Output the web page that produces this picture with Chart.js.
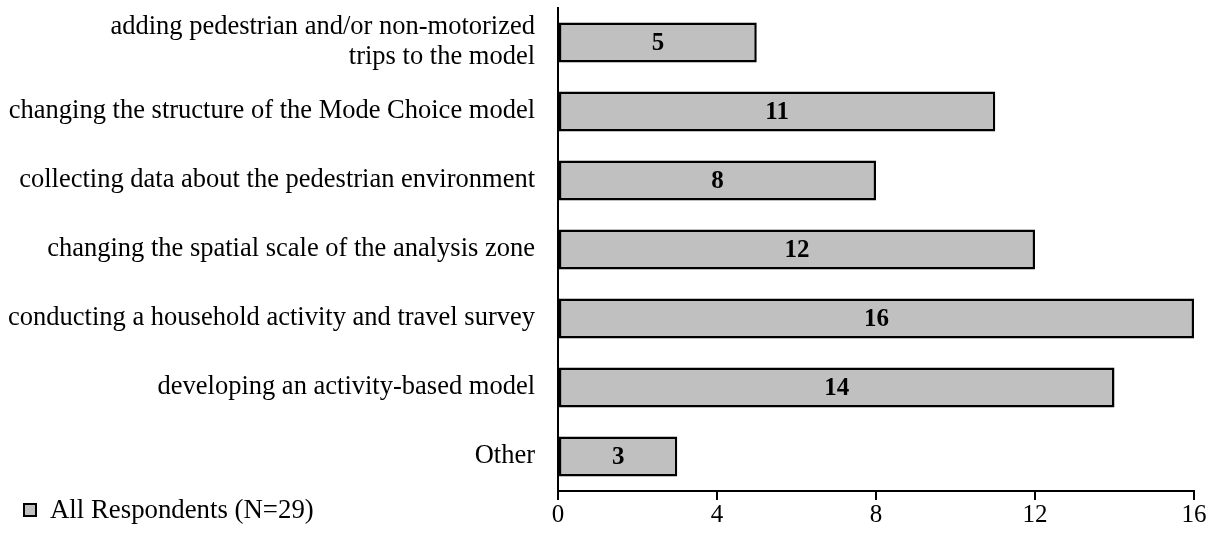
<!DOCTYPE html>
<html>
<head>
<meta charset="utf-8">
<script src="https://cdn.jsdelivr.net/npm/chart.js@4/dist/chart.umd.min.js"></script>
<style>
  html, body { margin: 0; padding: 0; background: #fff; overflow: hidden; }
  #wrap { width: 1214px; height: 533px; position: relative; }
</style>
</head>
<body>
<div id="wrap"><canvas id="c"></canvas></div>
<script>
const categories = [
  ["adding pedestrian and/or non-motorized", "trips to the model"],
  "changing the structure of the Mode Choice model",
  "collecting data about the pedestrian environment",
  "changing the spatial scale of the analysis zone",
  "conducting a household activity and travel survey",
  "developing an activity-based model",
  "Other"
];
const respondents = [5, 11, 8, 12, 16, 14, 3];
const seriesLabel = "All Respondents (N=29)";
const xTicks = [0, 4, 8, 12, 16];

const FONT = "'Liberation Serif', 'Times New Roman', serif";

// Bold value printed in the middle of each bar
const valueLabels = {
  id: 'valueLabels',
  afterDatasetsDraw(chart) {
    const { ctx } = chart;
    const meta = chart.getDatasetMeta(0);
    const data = chart.data.datasets[0].data;
    ctx.save();
    ctx.font = "bold 25px " + FONT;
    ctx.fillStyle = '#000';
    ctx.textAlign = 'center';
    ctx.textBaseline = 'middle';
    meta.data.forEach((bar, i) => {
      const x = (bar.base + bar.x) / 2;
      ctx.fillText(String(data[i]), x, bar.y + 1);
    });
    ctx.restore();
  }
};

// Series key in the lower left corner
const cornerLegend = {
  id: 'cornerLegend',
  afterDraw(chart) {
    const { ctx } = chart;
    const ds = chart.data.datasets[0];
    const y = 510;
    ctx.save();
    ctx.fillStyle = ds.backgroundColor;
    ctx.strokeStyle = '#000';
    ctx.lineWidth = 2;
    ctx.fillRect(24, y - 6, 12, 12);
    ctx.strokeRect(24, y - 6, 12, 12);
    ctx.fillStyle = '#000';
    ctx.font = "26.8px " + FONT;
    ctx.textAlign = 'left';
    ctx.textBaseline = 'middle';
    ctx.fillText(ds.label, 50, y + 1);
    ctx.restore();
  }
};

new Chart(document.getElementById('c'), {
  type: 'bar',
  data: {
    labels: categories,
    datasets: [{
      label: seriesLabel,
      data: respondents,
      backgroundColor: '#c0c0c0',
      borderColor: '#000',
      borderWidth: 2.5,
      borderSkipped: false,
      categoryPercentage: 1,
      barPercentage: 0.58
    }]
  },
  options: {
    indexAxis: 'y',
    responsive: true,
    maintainAspectRatio: false,
    animation: false,
    layout: { padding: { left: 0, right: 20, top: 8, bottom: 0 } },
    plugins: {
      legend: { display: false },
      tooltip: { enabled: false }
    },
    scales: {
      x: {
        min: 0,
        max: 16,
        afterBuildTicks(scale) {
          scale.ticks = xTicks.map(v => ({ value: v }));
        },
        afterFit(scale) {
          scale.height = 42;
          scale.paddingLeft = 0;
          scale.paddingRight = 0;
        },
        grid: {
          drawOnChartArea: false,
          drawTicks: true,
          tickLength: 9,
          color: '#000',
          lineWidth: 2
        },
        border: { display: true, color: '#000', width: 2 },
        ticks: {
          color: '#000',
          font: { family: FONT, size: 25 },
          padding: 0,
          maxRotation: 0
        }
      },
      y: {
        afterFit(scale) {
          scale.width = 558;
          scale.paddingTop = 0;
          scale.paddingBottom = 0;
        },
        grid: { display: false, drawTicks: false },
        border: { display: true, color: '#000', width: 2 },
        ticks: {
          color: '#000',
          font: { family: FONT, size: 26.5, lineHeight: 1.13 },
          padding: 23,
          crossAlign: 'near'
        }
      }
    }
  },
  plugins: [valueLabels, cornerLegend]
});
</script>
</body>
</html>
